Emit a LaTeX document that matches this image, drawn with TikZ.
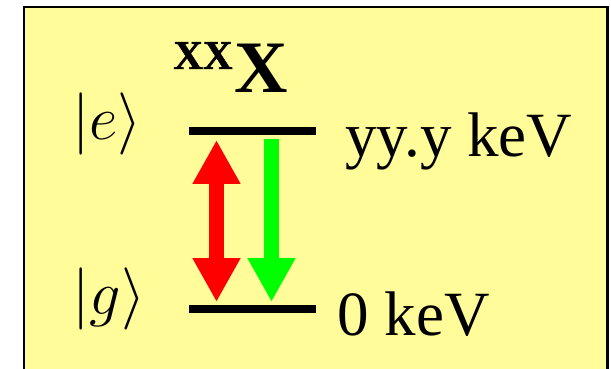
\documentclass[tikz,border=0pt]{standalone}
\usepackage{graphicx}
\usepackage{fontspec}
\setmainfont{Liberation Serif}
\newfontfamily\nucfont{Liberation Serif Bold}
\newfontfamily\massfont{Liberation Serif Bold}[FakeBold=1.2]
\usetikzlibrary{arrows.meta,positioning}

\definecolor{boxyellow}{RGB}{255,252,153}
\definecolor{upred}{RGB}{255,0,0}
\definecolor{downgreen}{RGB}{0,255,0}

\newcommand{\bigket}[1]{\scalebox{1.25}{$|#1\rangle$}}

\tikzset{
  level/.style={line width=4pt},
  big/.style={inner sep=0pt, anchor=base west, font=\fontsize{31.5}{36}\selectfont},
  ket/.style={inner sep=0pt, font=\fontsize{24.88}{30}\selectfont},
  fat/.style={line width=7.5pt, >={Triangle[width=22.5pt, length=22pt]}}
}

\begin{document}
\begin{tikzpicture}[x=0.5pt, y=-0.5pt]
    \useasboundingbox (0,0) rectangle (611,369);
    \clip (0,0) rectangle (611,369);
    % panel
    \draw[line width=1.25pt, fill=boxyellow] (24,7) rectangle (607.5,420);

    % nucleus
    \node[inner sep=0pt, anchor=base west, font=\massfont\fontsize{20.5}{24}\selectfont]
      (mass) at (173,69) {XX};
    \node[inner sep=0pt, anchor=base west, font=\nucfont\fontsize{37}{42}\selectfont]
      (elem) at (234,93) {X};

    % levels
    \coordinate (eL) at (189,131);
    \coordinate (eR) at (316,131);
    \coordinate (gL) at (189,309);
    \coordinate (gR) at (316,309);
    \draw[level] (eL) -- (eR);
    \draw[level] (gL) -- (gR);

    \node[ket, anchor=base west] (ket-e) at (72,139.5) {\bigket{e}};
    \node[ket, anchor=base west] (ket-g) at (72,314.5) {\bigket{g}};
    \node[big] (en-e) at (345,156) {yy.y keV};
    \node[big] (en-g) at (337,335) {0 keV};

    % transitions
    \coordinate (redtop) at (216.5,140);
    \coordinate (redbot) at (216.5,302);
    \coordinate (greentop) at (271.5,139);
    \coordinate (greenbot) at (271.5,302);
    \draw[fat, upred, <->] (redtop) -- (redbot);
    \draw[fat, downgreen, ->] (greentop) -- (greenbot);
\end{tikzpicture}
\end{document}
